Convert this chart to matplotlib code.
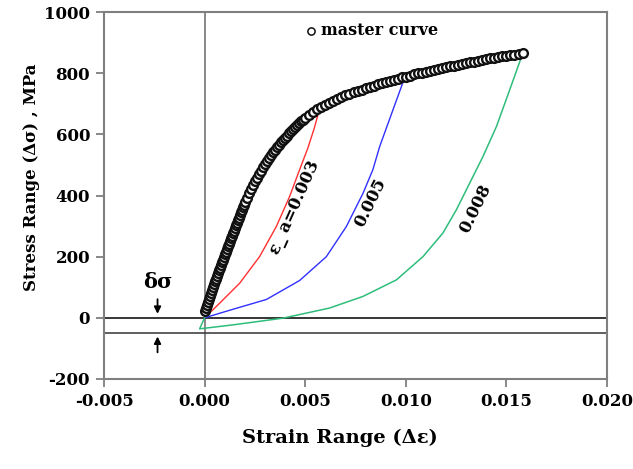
import matplotlib
matplotlib.use("Agg")
import matplotlib.pyplot as plt

# ---------------- data ----------------
master_x = [0.0000, 0.00005, 0.0001, 0.00015, 0.0002, 0.00025, 0.0003, 0.00035, 0.0004, 0.00045,
            0.0005, 0.00055, 0.0006, 0.00065, 0.0007, 0.00075, 0.0008, 0.00085, 0.0009, 0.00095,
            0.0010, 0.00105, 0.0011, 0.00115, 0.0012, 0.00125, 0.0013, 0.00135, 0.0014, 0.00145,
            0.0015, 0.00155, 0.0016, 0.00165, 0.0017, 0.00175, 0.0018, 0.00185, 0.0019, 0.00195,
            0.0020, 0.0021, 0.0022, 0.0023, 0.0024, 0.0025, 0.0026, 0.0027, 0.0028, 0.0029,
            0.0030, 0.0031, 0.0032, 0.0033, 0.0034, 0.0035, 0.0036, 0.0037, 0.0038, 0.0039,
            0.0040, 0.0041, 0.0042, 0.0043, 0.0044, 0.0045, 0.0046, 0.0047, 0.0048, 0.0049,
            0.0050, 0.0052, 0.0054, 0.0056, 0.0058, 0.0060, 0.0062, 0.0064, 0.0066, 0.0068,
            0.0070, 0.0072, 0.0074, 0.0076, 0.0078, 0.0080, 0.0082, 0.0084, 0.0086, 0.0088,
            0.0090, 0.0092, 0.0094, 0.0096, 0.0098, 0.0100, 0.0102, 0.0104, 0.0106, 0.0108,
            0.0110, 0.0112, 0.0114, 0.0116, 0.0118, 0.0120, 0.0122, 0.0124, 0.0126, 0.0128,
            0.0130, 0.0132, 0.0134, 0.0136, 0.0138, 0.0140, 0.0142, 0.0144, 0.0146, 0.0148,
            0.0150, 0.0152, 0.0154, 0.0156, 0.0158]
master_y = [21, 31, 41, 51, 61, 71, 81, 91, 101, 110,
            119, 128, 137, 146, 155, 164, 173, 182, 190, 199,
            208, 216, 225, 234, 242, 251, 260, 268, 277, 285,
            294, 303, 311, 320, 328, 337, 345, 354, 362, 370,
            378, 393, 408, 422, 435, 447, 458, 470, 481, 492,
            503, 513, 523, 532, 541, 550, 558, 566, 574, 582,
            589, 596, 603, 610, 617, 623, 630, 636, 642, 648,
            654, 664, 673, 682, 690, 697, 704, 710, 716, 721,
            727, 732, 737, 742, 746, 751, 755, 759, 763, 767,
            771, 775, 779, 782, 786, 789, 792, 796, 799, 802,
            805, 808, 811, 813, 816, 819, 822, 825, 828, 830,
            833, 836, 838, 841, 843, 846, 848, 851, 853, 855,
            857, 859, 861, 863, 865]

red_x = [0.0, 0.00075, 0.00174, 0.00273, 0.00356, 0.00422, 0.00472, 0.00513, 0.00545, 0.0057]
red_y = [0, 48, 113, 200, 298, 396, 484, 555, 620, 680]

blue_x = [0.0, 0.0007, 0.00141, 0.00307, 0.00472, 0.00605, 0.00704, 0.00787, 0.00836,
          0.0087, 0.00936, 0.00994]
blue_y = [0, 14, 28, 60, 122, 200, 298, 407, 484, 560, 680, 785]

green_x = [0.0, -0.00025, 0.00141, 0.0039, 0.00621, 0.00787, 0.00953, 0.01085, 0.01184,
           0.01251, 0.01317, 0.01383, 0.0145, 0.01516, 0.0158]
green_y = [0, -36, -23, -1, 32, 70, 124, 200, 277,
           353, 440, 527, 625, 745, 863]

curve_labels = ["ε_ a=0.003", "0.005", "0.008"]
delta_sigma = -48

x_ticks = [-0.005, 0.000, 0.005, 0.010, 0.015, 0.020]
y_ticks = [-200, 0, 200, 400, 600, 800, 1000]

# ---------------- figure ----------------
plt.rcParams['font.family'] = ["DejaVu Serif"]
plt.rcParams['font.weight'] = 'bold'

fig = plt.figure(figsize=(6.33, 4.69), dpi=100)
ax = fig.add_axes([0.1643, 0.1919, 0.7947, 0.7825])

ax.set_xlim(-0.005, 0.020)
ax.set_ylim(-200, 1000)

grey = "#7f7f7f"
ax.axvline(0, color=grey, lw=1.3, zorder=1)
ax.axhline(0, color="black", lw=1.1, zorder=1)
ax.axhline(delta_sigma, color="#333333", lw=1.1, zorder=1)

ax.plot(red_x, red_y, color="#ff3030", lw=1.0, zorder=2)
ax.plot(blue_x, blue_y, color="#3030ff", lw=1.0, zorder=2)
ax.plot(green_x, green_y, color="#2ebd7a", lw=1.1, zorder=2)

ax.plot(master_x, master_y, linestyle="none", marker="o", markersize=6.3,
        markerfacecolor="white", markeredgecolor="#111111", markeredgewidth=1.7, zorder=3)

for s in ax.spines.values():
    s.set_color(grey)
    s.set_linewidth(1.5)

ax.set_xticks(x_ticks)
ax.set_xticklabels([f"{v:.3f}" for v in x_ticks])
ax.set_yticks(y_ticks)
ax.set_yticklabels([str(v) for v in y_ticks])
ax.tick_params(direction="out", length=6, width=1.3, color=grey, labelsize=12, pad=4)

ax.set_xlabel("Strain Range (Δε)", fontsize=14, fontweight="bold")
ax.xaxis.set_label_coords(0.469, -0.135)
ax.set_ylabel("Stress Range (Δσ) , MPa", fontsize=12, fontweight="bold")
ax.yaxis.set_label_coords(-0.127, 0.55)

# curve labels
ax.text(0.00447, 360, curve_labels[0], rotation=66, ha="center", va="center",
        fontsize=12, fontweight="bold")
ax.text(0.00825, 376, curve_labels[1], rotation=64, ha="center", va="center",
        fontsize=12, fontweight="bold")
ax.text(0.01347, 356, curve_labels[2], rotation=64, ha="center", va="center",
        fontsize=12, fontweight="bold")

# legend-like label
ax.plot([0.00527], [938], linestyle="none", marker="o", markersize=5.2,
        markerfacecolor="white", markeredgecolor="#111111", markeredgewidth=1.1)
ax.text(0.00578, 940, "master curve", ha="left", va="center", fontsize=11.5, fontweight="bold")

# delta sigma annotation
ax.text(-0.00233, 118, "δσ", ha="center", va="center", fontsize=15, fontweight="bold")
ax.annotate("", xy=(-0.00234, 4), xytext=(-0.00234, 70),
            arrowprops=dict(arrowstyle="-|>", color="black", lw=1.3, mutation_scale=10))
ax.annotate("", xy=(-0.00234, delta_sigma - 4), xytext=(-0.00234, -122),
            arrowprops=dict(arrowstyle="-|>", color="black", lw=1.3, mutation_scale=10))

fig.savefig("out.png", dpi=100)
